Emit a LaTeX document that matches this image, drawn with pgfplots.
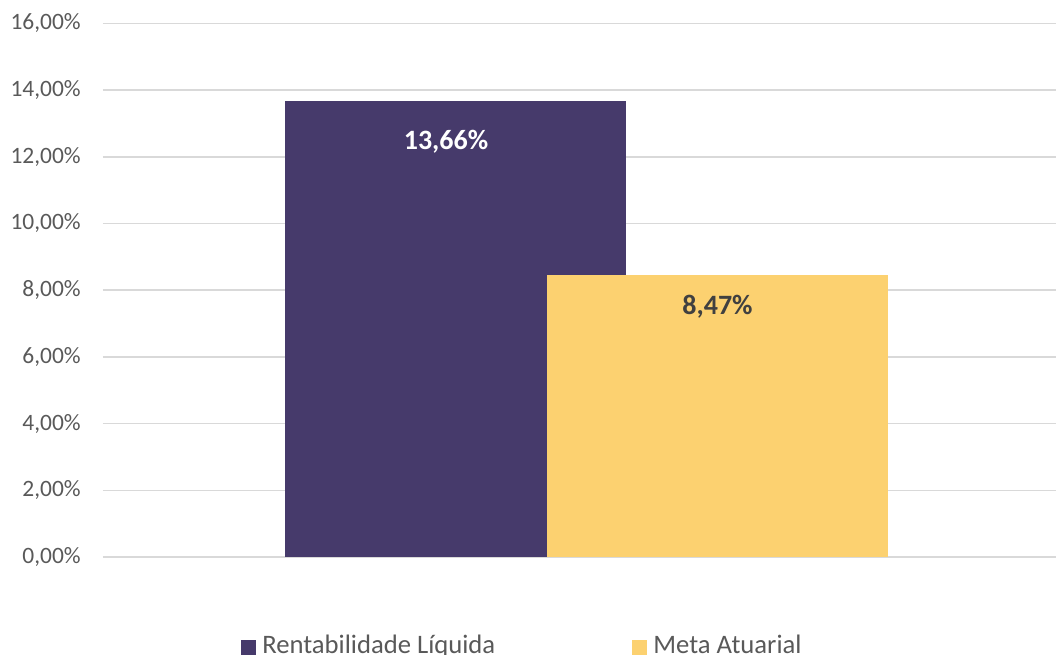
\documentclass[border=0pt]{standalone}
\usepackage{pgfplots}
\pgfplotsset{compat=1.18}
\usepackage{fontspec}
\setmainfont{Carlito}
\definecolor{roxo}{HTML}{463A6B}
\definecolor{amarelo}{HTML}{FCD170}
\definecolor{cinzatexto}{HTML}{595959}
\definecolor{grade}{HTML}{D9D9D9}
\definecolor{rotulo}{HTML}{404040}

\begin{document}
\begin{tikzpicture}
\begin{axis}[
    at={(0pt,0pt)}, anchor=south west,
    scale only axis,
    width=714.75pt, height=400.2pt,
    xmin=-483.5, xmax=469.5,
    ymin=0, ymax=16,
    ytick={0,2,...,16},
    xtick=\empty,
    axis line style={draw=none},
    major tick length=0pt,
    ymajorgrids,
    grid style={grade, line width=1.1pt},
    /pgf/number format/assume math mode=true,
    yticklabel={\pgfmathprintnumber[fixed,fixed zerofill,precision=2,use comma]{\tick}\%},
    yticklabel style={anchor=east, inner sep=0pt, xshift=-16.5pt,
        font=\fontsize{17.6}{20}\selectfont, text=cinzatexto},
    nodes near coords={\pgfmathprintnumber[fixed,fixed zerofill,precision=2,use comma]{\pgfplotspointmeta}\%},
    legend columns=2,
    legend style={
        at={(0.1448,-0.1836)}, anchor=south west,
        draw=none, fill=none, inner sep=0pt,
        font=\fontsize{20}{24}\selectfont, text=cinzatexto,
        nodes={inner sep=0pt, text depth=0pt},
        /tikz/every even column/.append style={column sep=102.75pt},
    },
    legend image code/.code={
        \fill[#1] (0pt,-8pt) rectangle (11.25pt,3.25pt);
        \path (15.75pt,0pt);
    },
]
% Rentabilidade Liquida
\addplot[ybar, bar width=341, bar shift=0, fill=roxo, draw=none,
    every node near coord/.append style={anchor=center, yshift=-30.3pt, xshift=-7.1pt,
        text=white, font=\fontsize{21}{24}\selectfont\bfseries}]
    coordinates {(-131,13.66)};
\addlegendentry{Rentabilidade Líquida}
% Meta Atuarial
\addplot[ybar, bar width=341, bar shift=0, fill=amarelo, draw=none,
    every node near coord/.append style={anchor=center, yshift=-24pt,
        text=rotulo, font=\fontsize{21}{24}\selectfont\bfseries}]
    coordinates {(131,8.47)};
\addlegendentry{Meta Atuarial}
\end{axis}
\pgfresetboundingbox
\path[use as bounding box] (-77.25pt,-73.5pt) rectangle (714.75pt,417.75pt);
\end{tikzpicture}
\end{document}
